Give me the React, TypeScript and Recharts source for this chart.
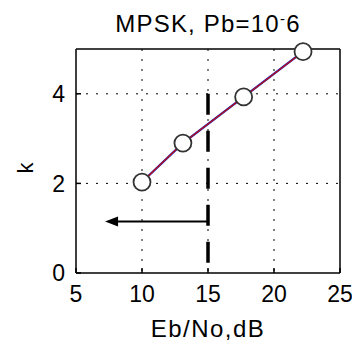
import {
  LineChart,
  Line,
  XAxis,
  YAxis,
  CartesianGrid,
  ReferenceLine,
} from 'recharts';

// Eb/No (dB) needed for Pb = 1e-6, and the matching bits per symbol k
const ebNoDb = [10.0, 13.1, 17.7, 22.2];
const kBits = [2.03, 2.9, 3.93, 4.94];

const xTicks = [5, 10, 15, 20, 25];
const yTicks = [0, 2, 4];

// dashed marker at 15 dB and the arrow pointing to lower Eb/No
const limitDb = 15;
const limitTop = 4;
const limitBottom = 0.2;
const arrowK = 1.15;
const arrowTipDb = 7.2;

const data = ebNoDb.map((x, i) => ({ x, k: kBits[i] }));

const FONT = '"Liberation Sans", Arial, sans-serif';

function Arrow(props: any) {
  const { x1, y1, x2, y2 } = props;
  const dir = x2 < x1 ? 1 : -1;
  const len = 13;
  const half = 5;
  return (
    <g>
      <line x1={x1} y1={y1} x2={x2 + dir * len} y2={y2} stroke="#000" strokeWidth={1.8} />
      <path
        d={`M${x2},${y2} L${x2 + dir * len},${y2 - half} L${x2 + dir * len},${y2 + half} Z`}
        fill="#000"
      />
    </g>
  );
}

function KLabel(props: any) {
  const { viewBox } = props;
  const cx = viewBox.x + 9;
  const cy = viewBox.y + viewBox.height / 2 + 7;
  return (
    <text
      x={cx}
      y={cy}
      transform={`rotate(-90 ${cx} ${cy})`}
      textAnchor="middle"
      dominantBaseline="central"
      fontFamily={FONT}
      fontSize={22}
      fill="#000"
    >
      k
    </text>
  );
}

export default function App() {
  return (
    <div style={{ position: 'absolute', left: 0, top: 0, width: 352, height: 344, background: '#fff' }}>
      <div
        style={{
          position: 'absolute',
          left: 56,
          width: 304,
          top: 5,
          textAlign: 'center',
          fontFamily: FONT,
          fontSize: 24,
          letterSpacing: 1.2,
          color: '#000',
          lineHeight: '28px',
          whiteSpace: 'nowrap',
        }}
      >
        MPSK, Pb=10<span style={{ fontSize: 15, verticalAlign: 8 }}>-</span>6
      </div>
      <LineChart
        width={352}
        height={344}
        data={data}
        margin={{ top: 48, right: 11, bottom: 0, left: 16 }}
      >
        <CartesianGrid
          stroke="#000"
          strokeDasharray="2 8"
          horizontalValues={[2, 4]}
          verticalValues={[10, 15, 20]}
        />
        <XAxis
          dataKey="x"
          type="number"
          domain={[5, 25]}
          ticks={xTicks}
          height={71}
          tickSize={-5}
          tickMargin={18}
          stroke="#000"
          strokeWidth={1.5}
          tick={{ fill: '#000', fontSize: 23, fontFamily: FONT }}
          label={{
            value: 'Eb/No,dB',
            position: 'insideBottom',
            offset: 7,
            fill: '#000',
            fontSize: 24,
            fontFamily: FONT,
            letterSpacing: 1.5,
          }}
        />
        <XAxis
          xAxisId="top"
          dataKey="x"
          orientation="top"
          type="number"
          domain={[5, 25]}
          ticks={xTicks}
          height={1}
          tickSize={-5}
          tick={false}
          stroke="#000"
          strokeWidth={1.5}
        />
        <YAxis
          type="number"
          domain={[0, 5]}
          ticks={yTicks}
          width={60}
          tickSize={-5}
          tickMargin={16}
          stroke="#000"
          strokeWidth={1.5}
          tick={{ fill: '#000', fontSize: 23, fontFamily: FONT }}
          label={<KLabel />}
        />
        <YAxis
          yAxisId="right"
          orientation="right"
          type="number"
          domain={[0, 5]}
          ticks={yTicks}
          width={1}
          tickSize={-5}
          tick={false}
          stroke="#000"
          strokeWidth={1.5}
        />
        <ReferenceLine
          segment={[{ x: limitDb, y: limitTop }, { x: limitDb, y: limitBottom }]}
          stroke="#000"
          strokeWidth={3.5}
          strokeDasharray="21 16"
        />
        <ReferenceLine
          segment={[{ x: limitDb, y: arrowK }, { x: arrowTipDb, y: arrowK }]}
          shape={<Arrow />}
        />
        {/* invisible copy so the top and right frame axes get drawn */}
        <Line
          xAxisId="top"
          yAxisId="right"
          dataKey="k"
          stroke="none"
          dot={false}
          activeDot={false}
          isAnimationActive={false}
        />
        <Line
          dataKey="k"
          stroke="#1020c0"
          strokeWidth={2.2}
          dot={false}
          isAnimationActive={false}
        />
        <Line
          dataKey="k"
          stroke="#c01010"
          strokeWidth={1.2}
          dot={{ r: 8.5, fill: '#fff', stroke: '#333', strokeWidth: 1.8 }}
          isAnimationActive={false}
        />
      </LineChart>
    </div>
  );
}
